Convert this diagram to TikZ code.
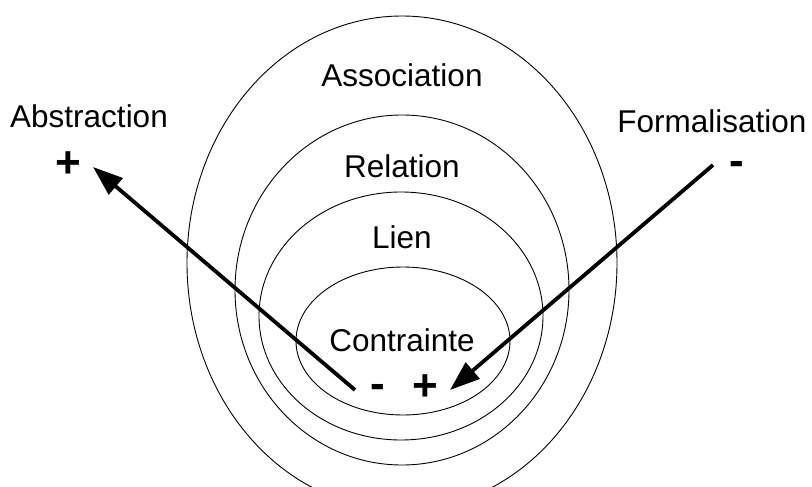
\documentclass[tikz,border=0pt]{standalone}
\usepackage{fontspec}
\setmainfont{Liberation Sans}
\usetikzlibrary{arrows.meta}

\begin{document}
\begin{tikzpicture}[
        x=1pt,y=-1pt,
        every node/.style={
            inner sep=0pt,
            font=\fontsize{31.5}{36}\selectfont
        },
        axe/.style={line width=3.8pt,-{Triangle[length=30pt,width=21pt]}},
        signe/.style={font=\fontsize{44}{48}\selectfont\bfseries}
    ]
    \useasboundingbox (0,0) rectangle (812,487);
    \clip (0,0) rectangle (812,487);
% Ellipses
\foreach\cx/\cy/\rx/\ry in {402/263/215/247,402/290/167/175,401/316/142/124,403/341/107/74}{
    \draw[line width=0.9pt] (\cx,\cy) ellipse [x radius=\rx,y radius=\ry];
}
% Labels
    \node (assoc) at (402,75) {Association};
    \node (rel) at (402,166) {Relation};
    \node (lien) at (402,237) {Lien};
    \node (contr) at (402,340) {Contrainte};
    \node (abstr) at (89,116) {Abstraction};
    \node (formal) at (712,121) {Formalisation};
% Signs
    \node[signe] (plusA) at (68,165) {+};
    \node[signe] (moinsF) at (737,168) {-};
    \node[signe] (moinsC) at (378,391) {-};
    \node[signe] (plusC) at (425,388) {+};
% Arrows
    \coordinate (queueA) at (355,390);
    \coordinate (pointeA) at (93,167);
    \coordinate (queueF) at (713,165);
    \coordinate (pointeF) at (450,390);
    \draw[axe] (queueA) -- (pointeA);
    \draw[axe] (queueF) -- (pointeF);
\end{tikzpicture}
\end{document}
